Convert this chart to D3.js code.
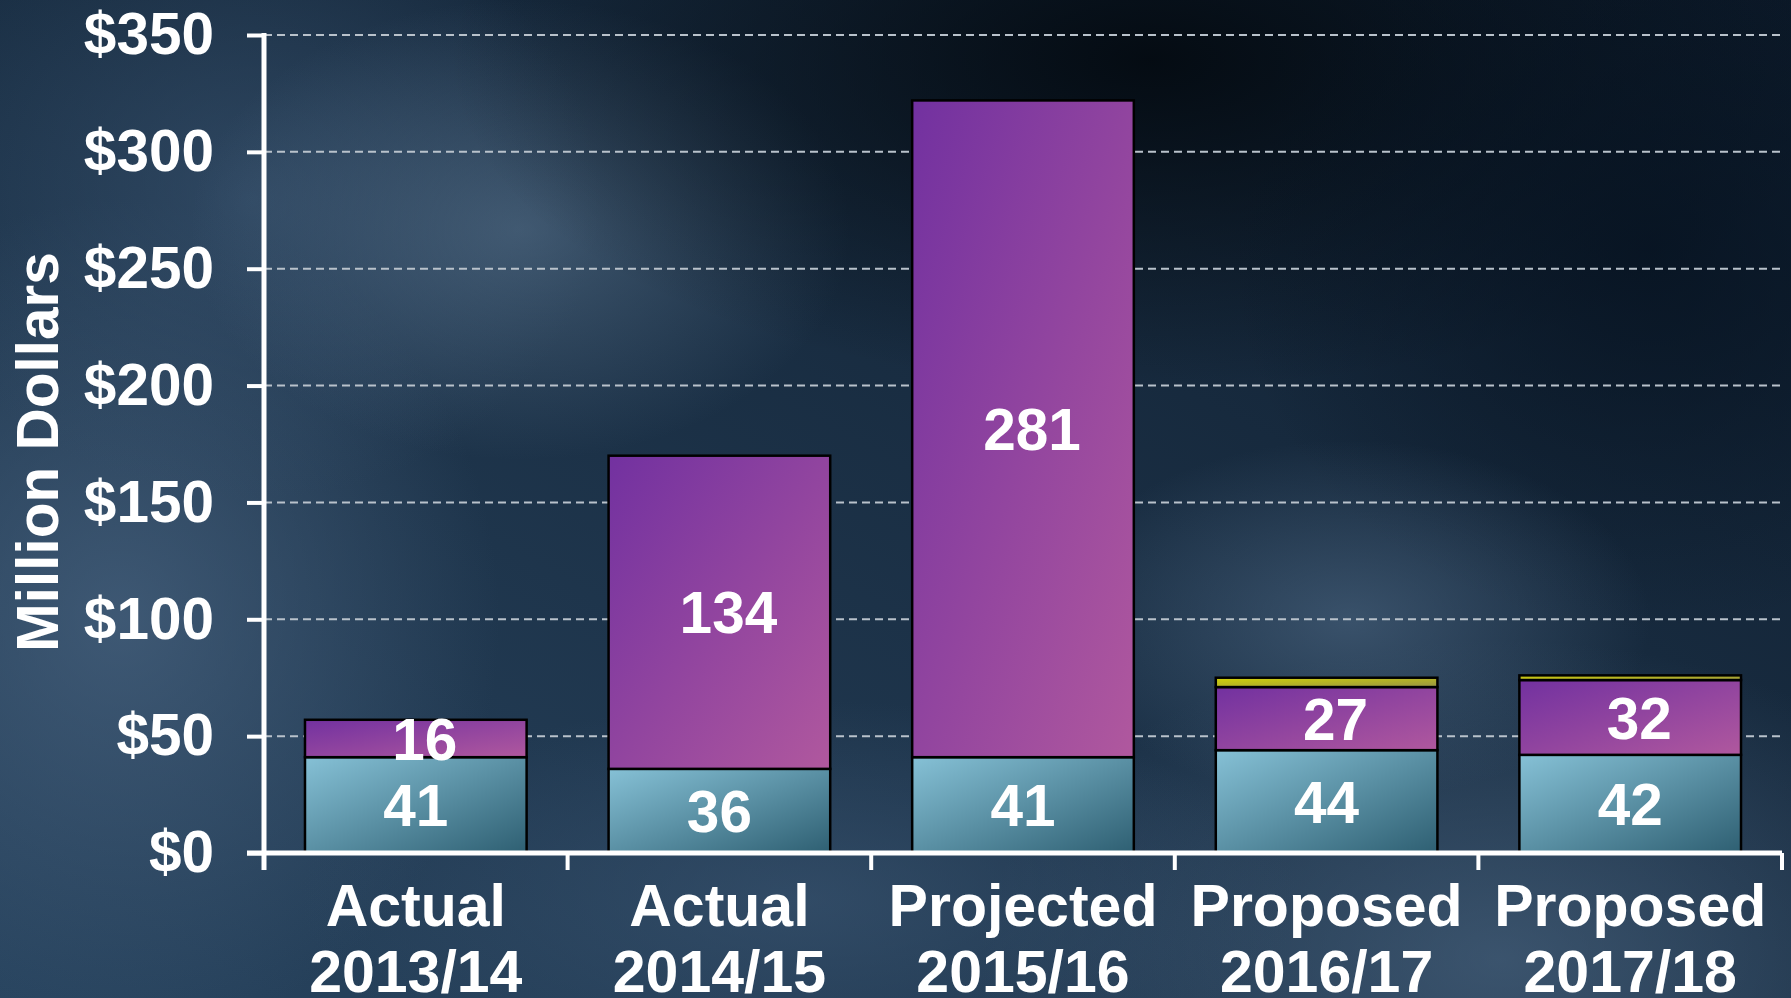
<!DOCTYPE html>
<html lang="en">
<head>
<meta charset="UTF-8">
<title>Million Dollars</title>
<script src="https://cdn.jsdelivr.net/npm/d3@7"></script>
<style>
    body { margin: 0; background: #1c3550; }
    svg { display: block; font-family: "Liberation Sans", Arial, sans-serif; }
</style>
</head>
<body>
<div id="chart"></div>
<script>
    const categories = ["Actual|2013/14", "Actual|2014/15", "Projected|2015/16", "Proposed|2016/17", "Proposed|2017/18"];
    const baseValues = [41, 36, 41, 44, 42];
    const purpleValues = [16, 134, 281, 27, 32];
    const yellowValues = [0, 0, 0, 4, 2];
    const yTicks = [0, 50, 100, 150, 200, 250, 300, 350];

    const width = 1791, height = 998;
    const plotLeft = 264, plotRight = 1782, plotTop = 35, plotBottom = 853;
    const fontSize = 58.5;

    const svg = d3.select("#chart").append("svg")
        .attr("width", width)
        .attr("height", height);
    const defs = svg.append("defs");

    // bar gradients
    function linGrad(id, c1, c2, x1, y1, x2, y2) {
        const g = defs.append("linearGradient").attr("id", id)
            .attr("x1", x1).attr("y1", y1).attr("x2", x2).attr("y2", y2);
        g.append("stop").attr("offset", "0%").attr("stop-color", c1);
        g.append("stop").attr("offset", "100%").attr("stop-color", c2);
    }
    linGrad("teal", "#86c1d6", "#2e5f72", "0%", "0%", "100%", "100%");
    linGrad("purple", "#7231a0", "#b0589e", "0%", "0%", "100%", "100%");
    linGrad("yellow", "#d2d206", "#979445", "0%", "0%", "100%", "100%");
    linGrad("bg", "#28445f", "#0d1b2b", "0%", "100%", "100%", "0%");

    function blob(id, color, op) {
        const g = defs.append("radialGradient").attr("id", id);
        g.append("stop").attr("offset", "0%").attr("stop-color", color).attr("stop-opacity", op);
        g.append("stop").attr("offset", "100%").attr("stop-color", color).attr("stop-opacity", 0);
    }
    blob("b1", "#03090f", 0.9);
    blob("b2", "#5d7892", 0.55);
    blob("b3", "#4a6582", 0.7);
    blob("b4", "#4f6a86", 0.6);
    blob("b5", "#061220", 0.8);
    blob("b6", "#3c5774", 0.6);

    // background
    const bg = svg.append("g");
    bg.append("rect").attr("width", width).attr("height", height).attr("fill", "url(#bg)");
    const blobs = [
        ["b3", 120, 620, 380, 420],
        ["b6", 250, 200, 350, 300],
        ["b2", 520, 230, 330, 230],
        ["b1", 1150, 60, 700, 330],
        ["b5", 1650, 250, 420, 380],
        ["b4", 1500, 960, 520, 320],
        ["b6", 800, 900, 500, 200],
        ["b4", 1350, 620, 300, 180]
    ];
    bg.selectAll("ellipse").data(blobs).join("ellipse")
        .attr("cx", d => d[1]).attr("cy", d => d[2])
        .attr("rx", d => d[3]).attr("ry", d => d[4])
        .attr("fill", d => `url(#${d[0]})`);

    const x = d3.scaleBand()
        .domain(categories)
        .range([plotLeft, plotRight])
        .paddingInner(0.27)
        .paddingOuter(0.135);
    const y = d3.scaleLinear().domain([0, 350]).range([plotBottom, plotTop]);

    // grid lines
    svg.append("g").selectAll("line")
        .data(yTicks.filter(d => d > 0))
        .join("line")
        .attr("x1", plotLeft).attr("x2", plotRight)
        .attr("y1", d => y(d)).attr("y2", d => y(d))
        .attr("stroke", "#b9c2cb")
        .attr("stroke-width", 2)
        .attr("stroke-dasharray", "8,5");

    // stacked bars
    const rows = categories.map((c, i) => ({ cat: c, base: baseValues[i], purple: purpleValues[i], yellow: yellowValues[i] }));
    const stack = d3.stack().keys(["base", "purple", "yellow"])(rows);
    const fills = { base: "url(#teal)", purple: "url(#purple)", yellow: "url(#yellow)" };

    const layers = svg.append("g").selectAll("g")
        .data(stack)
        .join("g")
        .attr("fill", d => fills[d.key]);
    layers.selectAll("rect")
        .data(d => d.filter(p => p[1] > p[0]))
        .join("rect")
        .attr("x", d => x(d.data.cat))
        .attr("width", x.bandwidth())
        .attr("y", d => y(d[1]))
        .attr("height", d => y(d[0]) - y(d[1]))
        .attr("stroke", "#000")
        .attr("stroke-width", 2.5);

    // value labels
    const labelData = stack.filter(s => s.key !== "yellow")
        .flatMap(s => s.map(p => ({ key: s.key, cat: p.data.cat, v: p[1] - p[0], mid: (p[0] + p[1]) / 2 })));
    svg.append("g").selectAll("text")
        .data(labelData)
        .join("text")
        .attr("x", d => x(d.cat) + x.bandwidth() / 2 + (d.key === "purple" ? 9 : 0))
        .attr("y", d => y(d.mid))
        .attr("dy", "0.36em")
        .attr("text-anchor", "middle")
        .attr("font-size", fontSize)
        .attr("font-weight", "bold")
        .attr("fill", "#fff")
        .text(d => d.v);

    // y axis
    const yAxis = svg.append("g")
        .attr("transform", `translate(${plotLeft},0)`)
        .call(d3.axisLeft(y).tickValues(yTicks).tickSize(17).tickPadding(33).tickFormat(d => "$" + d));
    yAxis.select(".domain").remove();
    yAxis.selectAll(".tick line").attr("stroke", "#fff").attr("stroke-width", 4);
    yAxis.selectAll(".tick text")
        .attr("fill", "#fff")
        .attr("font-size", fontSize)
        .attr("font-weight", "bold")
        .attr("font-family", "Liberation Sans, Arial, sans-serif");
    svg.append("line")
        .attr("x1", plotLeft).attr("x2", plotLeft)
        .attr("y1", plotTop - 2).attr("y2", plotBottom + 17)
        .attr("stroke", "#fff").attr("stroke-width", 5);

    // x axis
    svg.append("line")
        .attr("x1", plotLeft - 17).attr("x2", plotRight)
        .attr("y1", plotBottom).attr("y2", plotBottom)
        .attr("stroke", "#fff").attr("stroke-width", 5);
    const step = x.step();
    const bounds = categories.map(c => x(c) - step * 0.135 + step);
    svg.append("g").selectAll("line")
        .data(bounds)
        .join("line")
        .attr("x1", d => d).attr("x2", d => d)
        .attr("y1", plotBottom).attr("y2", plotBottom + 17)
        .attr("stroke", "#fff").attr("stroke-width", 4);

    const xl = svg.append("g").selectAll("text")
        .data(categories)
        .join("text")
        .attr("text-anchor", "middle")
        .attr("font-size", 59)
        .attr("font-weight", "bold")
        .attr("fill", "#fff");
    xl.append("tspan")
        .attr("x", d => x(d) + x.bandwidth() / 2)
        .attr("y", 926)
        .text(d => d.split("|")[0]);
    xl.append("tspan")
        .attr("x", d => x(d) + x.bandwidth() / 2)
        .attr("y", 992)
        .text(d => d.split("|")[1]);

    // y title
    svg.append("text")
        .attr("transform", "translate(58,452) rotate(-90)")
        .attr("text-anchor", "middle")
        .attr("font-size", 58.5)
        .attr("font-weight", "bold")
        .attr("fill", "#fff")
        .text("Million Dollars");
</script>
</body>
</html>
